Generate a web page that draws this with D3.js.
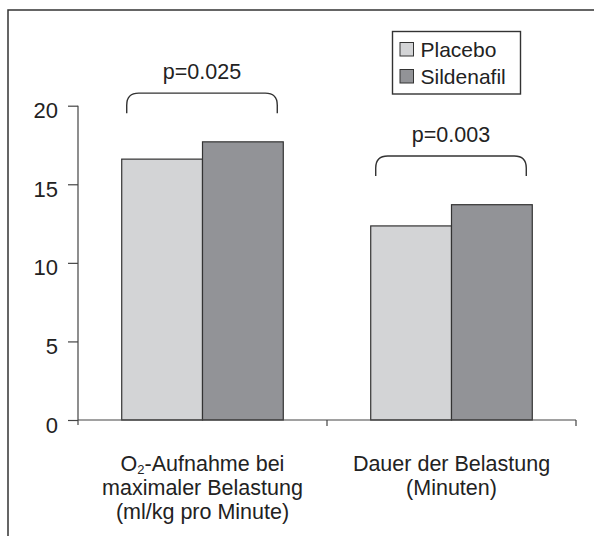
<!DOCTYPE html>
<html><head><meta charset="utf-8">
<script src="https://cdn.jsdelivr.net/npm/d3@7"></script>
<style>
html,body{margin:0;padding:0;background:#fff;}
text{font-family:"Liberation Sans",Arial,Helvetica,sans-serif;fill:#222;}
</style></head>
<body><svg id="c" width="594" height="536"></svg>
<script>
const categories = ["o2", "dauer"];
const categoryLines = [
  ["O₂-Aufnahme bei", "maximaler Belastung", "(ml/kg pro Minute)"],
  ["Dauer der Belastung", "(Minuten)"]
];
const seriesNames = ["Placebo", "Sildenafil"];
const placebo = [16.6, 12.35];
const sildenafil = [17.7, 13.7];
const pValues = ["p=0.025", "p=0.003"];
const bracketLevels = [20.8, 16.8];
const yTicks = [0, 5, 10, 15, 20];
const colors = ["#d3d4d6", "#929397"];

const svg = d3.select("#c");
const font = 21.5;

// outer frame
svg.append("rect").attr("x", 8).attr("y", 10).attr("width", 600).attr("height", 600)
  .attr("fill", "none").attr("stroke", "#333").attr("stroke-width", 1.5);

const x0 = 78, x1 = 576, yBottom = 420, yTop = 105.7;
const x = d3.scaleBand().domain(categories).range([x0, x1]).paddingInner(0).paddingOuter(0);
const y = d3.scaleLinear().domain([0, 20]).range([yBottom, yTop]);
const xs = d3.scaleBand().domain(seriesNames).range([0, x.bandwidth()]).paddingOuter(0.5412).paddingInner(0);

const data = categories.map((c, i) => ({c, vals: [placebo[i], sildenafil[i]]}));

// bars
const g = svg.append("g");
data.forEach((d, i) => {
  d.vals.forEach((v, j) => {
    g.append("rect")
      .attr("x", x(d.c) + xs(seriesNames[j]))
      .attr("y", y(v))
      .attr("width", xs.bandwidth())
      .attr("height", y(0) - y(v))
      .attr("fill", colors[j]).attr("stroke", "#333").attr("stroke-width", 1.2);
  });
});

// y axis
const yAxis = svg.append("g").attr("transform", `translate(${x0},0)`)
  .call(d3.axisLeft(y).tickValues(yTicks).tickSize(10).tickPadding(10).tickFormat(d3.format("d")));
yAxis.select(".domain").attr("d", `M0,${yTop}V${yBottom + 5}`);
yAxis.selectAll("line,path").attr("stroke", "#444").attr("stroke-width", 1.2);
yAxis.selectAll("text").attr("font-size", 22).attr("fill", "#222")
  .attr("font-family", "Liberation Sans, Arial, sans-serif").attr("dy", "0.55em");

// x axis line with category boundary ticks
const xAxis = svg.append("g");
xAxis.append("line").attr("x1", x0).attr("x2", x1).attr("y1", yBottom).attr("y2", yBottom)
  .attr("stroke", "#444").attr("stroke-width", 1.2);
categories.forEach(c => {
  const xe = x(c) + x.bandwidth();
  xAxis.append("line").attr("x1", xe).attr("x2", xe).attr("y1", yBottom).attr("y2", yBottom + 6)
    .attr("stroke", "#444").attr("stroke-width", 1.2);
});

// category labels (one text per line)
categories.forEach((c, i) => {
  const cx = x(c) + x.bandwidth() / 2;
  categoryLines[i].forEach((line, k) => {
    const t = svg.append("text").attr("text-anchor", "middle").attr("font-size", font)
      .attr("x", cx).attr("y", 470.7 + k * 24);
    if (line.startsWith("O₂")) {
      t.append("tspan").text("O");
      t.append("tspan").text("2").attr("font-size", 13).attr("dy", 3);
      t.append("tspan").text(line.slice(2)).attr("dy", -3);
    } else {
      t.text(line);
    }
  });
});

// brackets & p-values
data.forEach((d, i) => {
  const bx0 = x(d.c) + xs(seriesNames[0]) + 5;
  const bx1 = x(d.c) + xs(seriesNames[1]) + xs.bandwidth() - 6;
  const by = y(bracketLevels[i]);
  const h = 20, r = 12;
  svg.append("path")
    .attr("d", `M${bx0},${by + h}V${by + r}Q${bx0},${by} ${bx0 + r},${by}H${bx1 - r}Q${bx1},${by} ${bx1},${by + r}V${by + h}`)
    .attr("fill", "none").attr("stroke", "#333").attr("stroke-width", 1.4);
  svg.append("text").attr("x", (bx0 + bx1) / 2).attr("y", by - 14)
    .attr("text-anchor", "middle").attr("font-size", font).text(pValues[i]);
});

// legend
const lg = svg.append("g");
lg.append("rect").attr("x", 392.5).attr("y", 31.5).attr("width", 128).attr("height", 62.5)
  .attr("fill", "#fff").attr("stroke", "#333").attr("stroke-width", 1.4);
seriesNames.forEach((s, j) => {
  const ry = 42.5 + j * 27;
  lg.append("rect").attr("x", 400).attr("y", ry).attr("width", 13.5).attr("height", 13.5)
    .attr("fill", colors[j]).attr("stroke", "#333").attr("stroke-width", 1);
  lg.append("text").attr("x", 420.5).attr("y", ry + 14.5).attr("font-size", 21).text(s);
});
</script></body></html>
